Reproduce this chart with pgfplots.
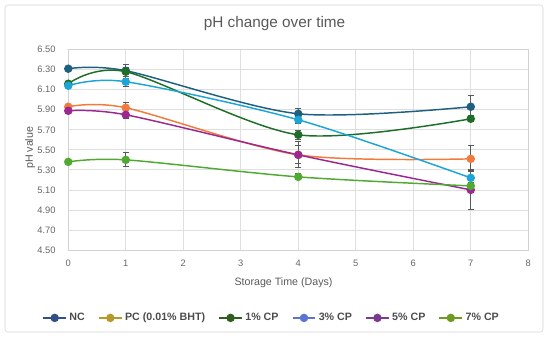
\documentclass[border=0pt]{standalone}
\usepackage{pgfplots}
\pgfplotsset{compat=1.18}
\usepackage{fontspec}
\setmainfont{Liberation Sans}
\definecolor{cNC}{RGB}{31,95,127}
\definecolor{cPC}{RGB}{242,122,58}
\definecolor{cA}{RGB}{30,110,40}
\definecolor{cB}{RGB}{30,165,215}
\definecolor{cC}{RGB}{155,40,145}
\definecolor{cD}{RGB}{80,170,50}
\definecolor{lNC}{RGB}{50,78,138}
\definecolor{lPC}{RGB}{181,154,42}
\definecolor{lA}{RGB}{47,94,30}
\definecolor{lB}{RGB}{91,116,212}
\definecolor{lC}{RGB}{123,58,143}
\definecolor{lD}{RGB}{110,154,34}
\begin{document}
\begin{tikzpicture}
\useasboundingbox (0,0) rectangle (412.5pt,252.75pt);
\draw[gray!35, rounded corners=2pt] (3.75pt,3.75pt) rectangle (407.25pt,249pt);
\node[font=\fontsize{11.5}{13}\selectfont, text=black!65] at (205.9pt,234.75pt) {pH change over time};
\begin{axis}[at={(51.2pt,65.25pt)}, anchor=south west, scale only axis,
  width=345pt, height=150.25pt,
  xmin=0, xmax=8, ymin=4.5, ymax=6.5,
  xtick={0,1,2,3,4,5,6,7,8},
  ytick={4.5,4.7,4.9,5.1,5.3,5.5,5.7,5.9,6.1,6.3,6.5},
  /pgf/number format/assume math mode=true,
  ticklabel style={font=\fontsize{7}{8}\selectfont, text=black!60},
  yticklabel style={xshift=-6pt, /pgf/number format/.cd, fixed, fixed zerofill, precision=2},
  xticklabel style={yshift=-4pt},
  grid=major, grid style={gray!25, line width=0.6pt},
  axis line style={gray!35, line width=0.6pt},
  major tick length=0pt,
  xlabel={Storage Time (Days)}, ylabel={pH value},
  label style={font=\fontsize{8}{9}\selectfont, text=black!65},
  xlabel style={at={(axis description cs:0.468,-0.161)}, anchor=center},
  ylabel style={at={(axis description cs:-0.083,0.51)}, anchor=center},
  legend columns=6,
  legend style={draw=none, fill=none, font=\bfseries\fontsize{8}{9}\selectfont, text=black!70,
    at={(0.443,-0.339)}, anchor=center,
    /tikz/every even column/.append style={column sep=8pt}},
  every axis plot/.append style={line width=1.1pt, mark size=2.6pt, mark options={solid}},
]
\addlegendimage{lNC, mark=*}\addlegendentry{NC}
\addlegendimage{lPC, mark=*}\addlegendentry{PC (0.01\% BHT)}
\addlegendimage{lA, mark=*}\addlegendentry{1\% CP}
\addlegendimage{lB, mark=*}\addlegendentry{3\% CP}
\addlegendimage{lC, mark=*}\addlegendentry{5\% CP}
\addlegendimage{lD, mark=*}\addlegendentry{7\% CP}

\addplot[cNC, smooth, mark=*, forget plot] coordinates {(0,6.31) (1,6.29) (4,5.86) (7,5.93)};
\addplot[cPC, smooth, mark=*, forget plot] coordinates {(0,5.93) (1,5.92) (4,5.45) (7,5.41)};
\addplot[cA, smooth, mark=*, forget plot] coordinates {(0,6.16) (1,6.28) (4,5.65) (7,5.81)};
\addplot[cB, smooth, mark=*, forget plot] coordinates {(0,6.14) (1,6.18) (4,5.80) (7,5.22)};
\addplot[cC, smooth, mark=*, forget plot] coordinates {(0,5.89) (1,5.85) (4,5.45) (7,5.10)};
\addplot[cD, smooth, mark=*, forget plot] coordinates {(0,5.38) (1,5.40) (4,5.23) (7,5.14)};

\addplot[draw=none, mark=none, forget plot,
  error bars/.cd, y dir=both, y explicit,
  error bar style={black!65, line width=0.6pt},
  error mark options={rotate=90, mark size=2.2pt, black!65, line width=0.6pt}]
  coordinates {
  (1,6.29) +- (0,0.03)  (4,5.86) +- (0,0.05)  (7,5.93) +- (0,0.11)
  (1,5.92) +- (0,0.05)  (4,5.45) +- (0,0.09)  (7,5.41) +- (0,0.13)
  (1,6.28) +- (0,0.07)  (4,5.65) +- (0,0.045) (7,5.81) +- (0,0.03)
  (1,6.18) +- (0,0.05)  (4,5.80) +- (0,0.04)  (7,5.22) +- (0,0.08)
  (1,5.85) +- (0,0.04)  (4,5.45) +- (0,0.13)  (7,5.10) +- (0,0.19)
  (1,5.40) +- (0,0.07)  (4,5.23) +- (0,0.03)  (7,5.14) +- (0,0.03)
  };
\end{axis}
\end{tikzpicture}
\end{document}
